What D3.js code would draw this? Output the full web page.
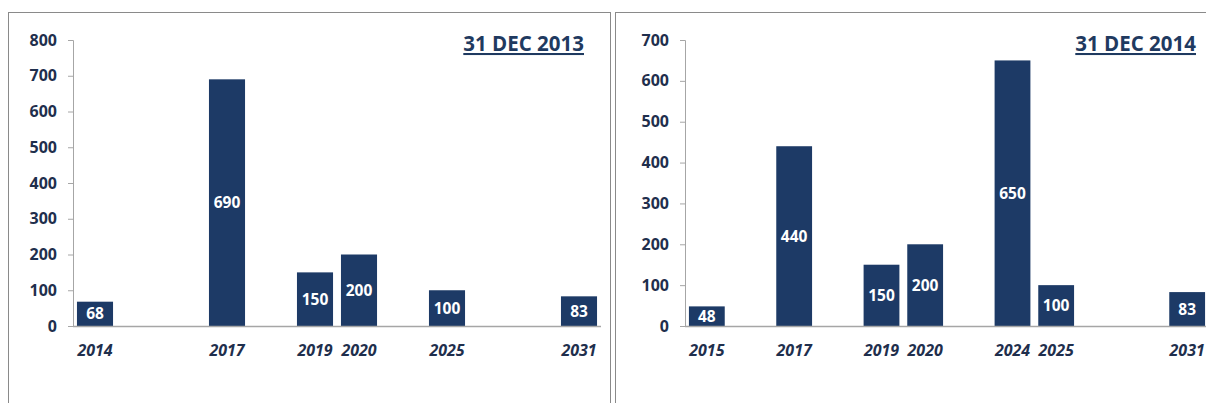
<!DOCTYPE html>
<html>
<head>
<meta charset="utf-8">
<script src="https://cdn.jsdelivr.net/npm/d3@7"></script>
<style>
  body { margin: 0; background: #fff; }
  svg { display: block; }
  .tick text { font-family: "Open Sans", sans-serif; }
</style>
</head>
<body>
<div id="myChart"></div>
<script>
// blanks are empty category rows in the source sheet
const categories2013 = ["2014", "", "", "2017", "", "2019", "2020", "", "2025", "", "", "2031"];
const values2013 = [68, null, null, 690, null, 150, 200, null, 100, null, null, 83];
const yTicks2013 = [0, 100, 200, 300, 400, 500, 600, 700, 800];

const categories2014 = ["2015", "", "2017", "", "2019", "2020", "", "2024", "2025", "", "", "2031"];
const values2014 = [48, null, 440, null, 150, 200, null, 650, 100, null, null, 83];
const yTicks2014 = [0, 100, 200, 300, 400, 500, 600, 700];

const titles = ["31 DEC 2013", "31 DEC 2014"];

const W = 1206, H = 403;
const barColor = "#1d3a66";
const textColor = "#1f2f4d";

const svg = d3.select('#myChart')
  .append('svg')
  .attr('width', W)
  .attr('height', H);

// panel frames
svg.append('rect')
  .attr('x', 8.5).attr('y', 12.5)
  .attr('width', 602).attr('height', 420)
  .attr('fill', 'none').attr('stroke', '#8a8a8a');
svg.append('rect')
  .attr('x', 615.5).attr('y', 12.5)
  .attr('width', 620).attr('height', 420)
  .attr('fill', 'none').attr('stroke', '#8a8a8a');

function drawPanel(opts) {
  const g = svg.append('g');

  const x = d3.scaleBand()
    .domain(d3.range(opts.categories.length))
    .range([opts.x0, opts.x1])
    .paddingInner(0.18)
    .paddingOuter(0.09);

  const y = d3.scaleLinear()
    .domain([0, d3.max(opts.yTicks)])
    .range([opts.y0, opts.y1]);

  // y axis
  const yAxis = g.append('g')
    .attr('transform', 'translate(' + opts.x0 + ',0)')
    .call(d3.axisLeft(y).tickValues(opts.yTicks).tickSize(5).tickPadding(11));
  yAxis.select('.domain').attr('stroke', '#a6a6a6');
  yAxis.selectAll('.tick line').attr('stroke', '#a6a6a6');
  yAxis.selectAll('.tick text')
    .attr('fill', textColor)
    .style('font-size', '16px')
    .style('font-weight', 700);

  const data = opts.values.map((v, i) => ({ i: i, label: opts.categories[i], value: v }))
    .filter(d => d.value != null);

  g.selectAll('rect.bar')
    .data(data)
    .enter()
    .append('rect')
    .attr('class', 'bar')
    .attr('x', d => x(d.i))
    .attr('width', x.bandwidth())
    .attr('y', d => y(d.value))
    .attr('height', d => y(0) - y(d.value))
    .attr('fill', barColor);

  // x baseline
  g.append('line')
    .attr('x1', opts.x0).attr('x2', opts.x1)
    .attr('y1', y(0) + 0.5).attr('y2', y(0) + 0.5)
    .attr('stroke', '#a6a6a6')
    .attr('stroke-width', 1.5);

  // value labels, centred in bar
  g.selectAll('text.val')
    .data(data)
    .enter()
    .append('text')
    .attr('class', 'val')
    .text(d => d.value)
    .attr('x', d => x(d.i) + x.bandwidth() / 2)
    .attr('y', d => (y(d.value) + y(0)) / 2)
    .attr('dy', '0.36em')
    .attr('text-anchor', 'middle')
    .attr('fill', '#fff')
    .style('font-family', '"Open Sans", sans-serif')
    .style('font-weight', 700)
    .style('font-size', '15.5px');

  // category labels
  g.selectAll('text.cat')
    .data(data)
    .enter()
    .append('text')
    .attr('class', 'cat')
    .text(d => d.label)
    .attr('x', d => x(d.i) + x.bandwidth() / 2)
    .attr('y', y(0) + 24)
    .attr('dy', '0.36em')
    .attr('text-anchor', 'middle')
    .attr('fill', textColor)
    .style('font-family', '"Open Sans", sans-serif')
    .style('font-weight', 700)
    .style('font-style', 'italic')
    .style('font-size', '16px');

  // title, underlined
  g.append('text')
    .text(opts.title)
    .attr('x', opts.titleX)
    .attr('y', 51)
    .attr('text-anchor', 'end')
    .attr('fill', '#1f3a60')
    .attr('text-decoration', 'underline')
    .style('font-family', '"Open Sans", sans-serif')
    .style('font-weight', 700)
    .style('font-size', '20.5px');
}

drawPanel({
  categories: categories2013, values: values2013, yTicks: yTicks2013,
  title: titles[0], titleX: 584,
  x0: 73, x1: 601, y0: 326, y1: 40
});

drawPanel({
  categories: categories2014, values: values2014, yTicks: yTicks2014,
  title: titles[1], titleX: 1196,
  x0: 685, x1: 1209, y0: 326, y1: 40
});
</script>
</body>
</html>
